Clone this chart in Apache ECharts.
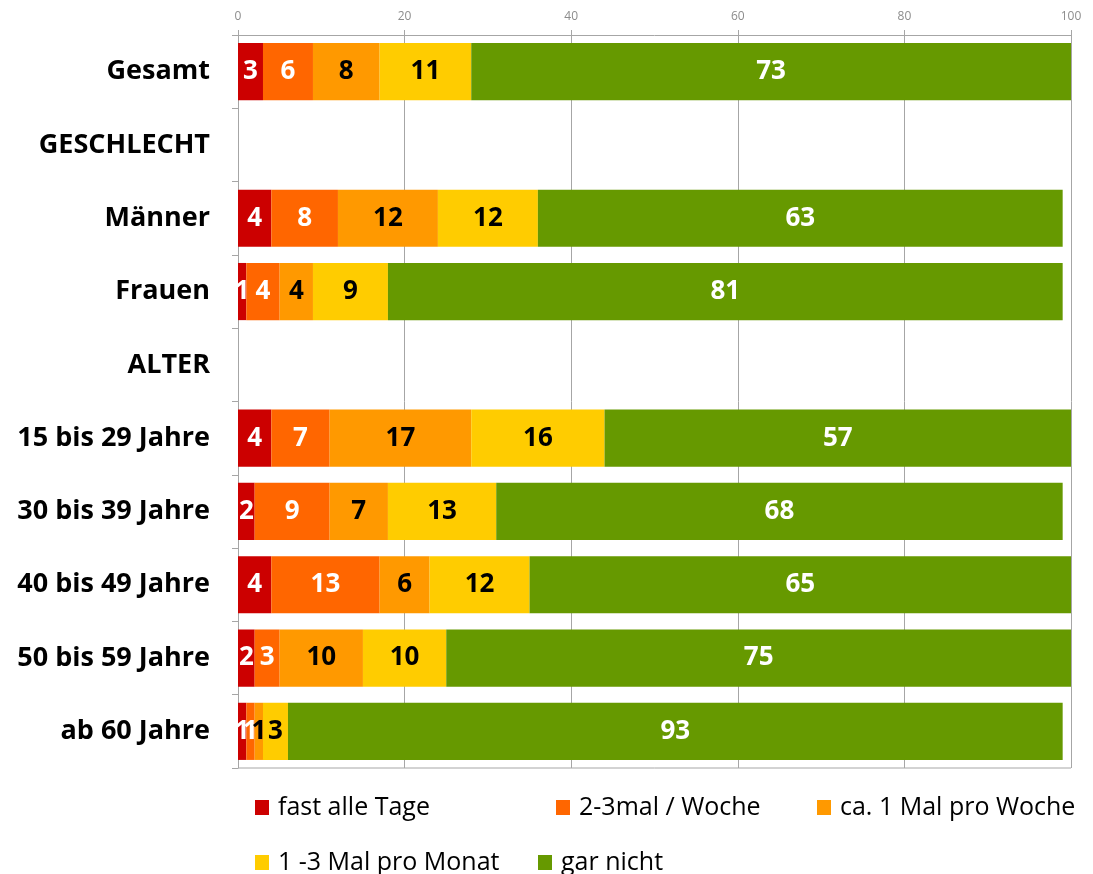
<!DOCTYPE html>
<html>
<head>
<meta charset="utf-8">
<script src="https://cdn.jsdelivr.net/npm/echarts@6/dist/echarts.min.js"></script>
<style>
  html, body { margin: 0; padding: 0; background: #fff; }
  #chart { width: 1093px; height: 874px; }
</style>
</head>
<body>
<div id="chart"></div>
<script>
// Kategorien von oben nach unten
const categories = ['Gesamt', 'GESCHLECHT', 'Männer', 'Frauen', 'ALTER',
  '15 bis 29 Jahre', '30 bis 39 Jahre', '40 bis 49 Jahre', '50 bis 59 Jahre', 'ab 60 Jahre']

const seriesNames = ['fast alle Tage', '2-3mal / Woche', 'ca. 1 Mal pro Woche', '1 -3 Mal pro Monat', 'gar nicht']
const colors = ['#CC0000', '#FF6600', '#FF9900', '#FFCC00', '#669900']
const labelColors = ['#fff', '#fff', '#000', '#000', '#fff']

// Werte in Prozent ('-' = Zwischenüberschrift ohne Balken)
const fastAlleTage = [3, '-', 4, 1, '-', 4, 2, 4, 2, 1]
const zweiDreiMal = [6, '-', 8, 4, '-', 7, 9, 13, 3, 1]
const einmalWoche = [8, '-', 12, 4, '-', 17, 7, 6, 10, 1]
const einsDreiMonat = [11, '-', 12, 9, '-', 16, 13, 12, 10, 3]
const garNicht = [73, '-', 63, 81, '-', 57, 68, 65, 75, 93]

const xTicks = [0, 20, 40, 60, 80, 100]

const values = [fastAlleTage, zweiDreiMal, einmalWoche, einsDreiMonat, garNicht]

// Legendenpositionen (Excel bricht die Legende in zwei Zeilen um)
const legendPos = [[255, 795], [556, 795], [817, 795], [255, 850], [538, 850]]

const chart = echarts.init(document.getElementById('chart'))

const font = '"Open Sans", sans-serif'

chart.setOption({
  animation: false,
  color: colors,
  grid: { left: 238, right: 22, top: 35, bottom: 106 },
  legend: seriesNames.map((name, i) => ({
    left: legendPos[i][0],
    top: legendPos[i][1],
    data: [name],
    icon: 'rect',
    itemWidth: 14,
    itemHeight: 15,
    itemGap: 0,
    padding: 0,
    textStyle: { fontFamily: font, fontSize: 25, color: '#000', padding: [0, 0, 0, 4] }
  })),
  xAxis: {
    type: 'value',
    position: 'top',
    min: xTicks[0],
    max: xTicks[xTicks.length - 1],
    interval: 20,
    axisLine: { show: true, lineStyle: { color: '#a6a6a6' } },
    axisTick: { show: true, length: 5, lineStyle: { color: '#a6a6a6' } },
    axisLabel: { color: '#8c8c8c', fontSize: 12, fontFamily: font, margin: 12 },
    splitLine: { show: true, lineStyle: { color: '#a6a6a6' } }
  },
  yAxis: {
    type: 'category',
    inverse: true,
    data: categories,
    axisLine: { show: true, lineStyle: { color: '#a6a6a6' } },
    axisTick: { show: true, length: 6, lineStyle: { color: '#a6a6a6' } },
    axisLabel: { color: '#000', fontSize: 27, fontWeight: 'bold', fontFamily: font, margin: 28, padding: [4, 0, 0, 0] }
  },
  series: seriesNames.map((name, i) => ({
    name: name,
    type: 'bar',
    stack: 'total',
    barCategoryGap: '22%',
    data: values[i],
    itemStyle: { color: colors[i] },
    label: {
      show: true,
      position: 'inside',
      color: labelColors[i],
      fontSize: 26,
      fontWeight: 'bold',
      fontFamily: font,
      padding: [3, 0, 0, 0]
    }
  })),
  // Rahmenlinie unten
  graphic: [{
    type: 'line',
    shape: { x1: 238, y1: 768, x2: 1071, y2: 768 },
    style: { stroke: '#a6a6a6', lineWidth: 1 }
  }]
})
</script>
</body>
</html>
